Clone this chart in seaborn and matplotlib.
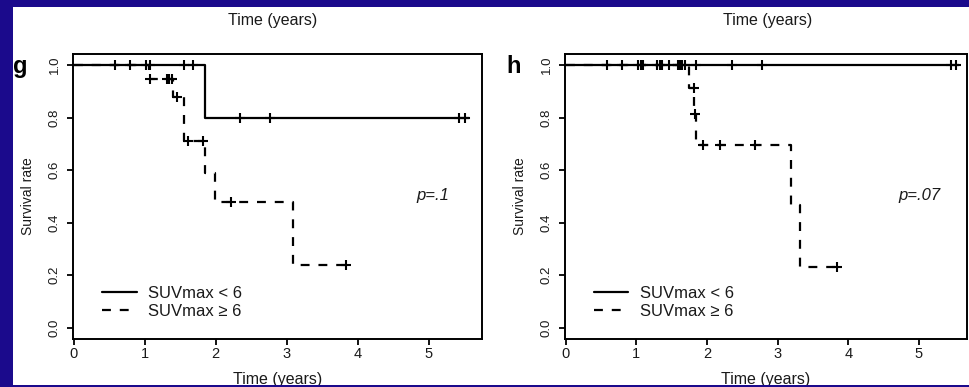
import numpy as np
import matplotlib
matplotlib.use("Agg")
import matplotlib.pyplot as plt
import seaborn as sns
from matplotlib.patches import Rectangle

sns.set_theme(style="ticks")
plt.rcParams["font.family"] = ["Liberation Sans", "DejaVu Sans"]

# ---- Kaplan-Meier step data (event times and survival after each event) ----
# panel g
g_low_times = [0.0, 1.85, 5.56]
g_low_surv = [1.0, 0.80, 0.80]
g_low_censor = [0.58, 0.79, 1.02, 1.07, 1.56, 1.68, 2.34, 2.76, 5.42, 5.51]

g_high_times = [0.0, 1.06, 1.40, 1.55, 1.85, 1.99, 3.09, 3.84]
g_high_surv = [1.0, 0.947, 0.88, 0.712, 0.59, 0.48, 0.24, 0.24]
g_high_censor = [1.07, 1.31, 1.34, 1.38, 1.45, 1.61, 1.82, 2.22, 3.84]

# panel h
h_low_times = [0.0, 5.56]
h_low_surv = [1.0, 1.0]
h_low_censor = [0.58, 0.80, 1.02, 1.06, 1.10, 1.29, 1.33, 1.36, 1.46,
                1.59, 1.62, 1.65, 1.69, 1.84, 2.35, 2.78, 5.46, 5.53]

h_high_times = [0.0, 1.75, 1.82, 1.85, 3.19, 3.32, 3.84]
h_high_surv = [1.0, 0.912, 0.813, 0.696, 0.467, 0.233, 0.233]
h_high_censor = [1.81, 1.83, 1.95, 2.19, 2.68, 3.84]

group_labels = ["SUVmax < 6", "SUVmax \u2265 6"]
x_ticks = [0, 1, 2, 3, 4, 5]
y_ticks = [0.0, 0.2, 0.4, 0.6, 0.8, 1.0]
y_tick_labels = ["0.0", "0.2", "0.4", "0.6", "0.8", "1.0"]
p_values = ["p=.1", "p=.07"]
panel_letters = ["g", "h"]
axis_label_x = "Time (years)"
axis_label_y = "Survival rate"

BLUE = "#1b0a8c"
INK = "#1a1a1a"
W, H = 970, 387
line_styles = ["-", (0, (4, 4))]


def step_level(times, surv, t):
    idx = np.searchsorted(times, t, side="right") - 1
    return np.asarray(surv)[idx]


fig = plt.figure(figsize=(W / 100, H / 100), dpi=100, facecolor="white")


def px_axes(left, top, right, bottom):
    return fig.add_axes([left / W, 1 - bottom / H, (right - left) / W, (bottom - top) / H])


def draw_panel(ax, curves, xmax, p_text, p_x, letter_x, letter):
    for (times, surv, censor), ls in zip(curves, line_styles):
        sns.lineplot(x=times, y=surv, ax=ax, color="black", lw=1.6,
                     drawstyle="steps-post", estimator=None, sort=False,
                     linestyle=ls, legend=False)
        sns.scatterplot(x=censor, y=step_level(times, surv, censor), ax=ax,
                        marker="+", s=58, color="black", linewidth=1.5,
                        legend=False, zorder=3)
    ax.set_xlim(-0.01, xmax)
    ax.set_ylim(-0.043, 1.042)
    ax.set_xticks(x_ticks)
    ax.set_xticklabels([str(t) for t in x_ticks])
    ax.set_yticks(y_ticks)
    ax.set_yticklabels(y_tick_labels, rotation=90, va="center")
    ax.tick_params(axis="both", direction="out", length=4.5, width=1.3,
                   color="black", labelcolor=INK)
    ax.tick_params(axis="x", labelsize=10.5, pad=1.5)
    ax.tick_params(axis="y", labelsize=9.5, pad=4.5)
    for sp in ax.spines.values():
        sp.set_visible(True)
        sp.set_color("black")
        sp.set_linewidth(1.4)
    ax.set_facecolor("white")
    ax.set_xlabel(axis_label_x, fontsize=11.5, color=INK)
    ax.xaxis.set_label_coords(0.5, -0.115)
    ax.set_ylabel(axis_label_y, fontsize=10, color=INK)
    ax.yaxis.set_label_coords(-0.094, 0.5)
    ax.text(p_x, 0.505, p_text, transform=ax.transAxes, fontsize=12,
            style="italic", ha="center", va="center", color=INK)
    ax.legend(handles=ax.lines[:2], labels=group_labels, loc="upper left",
              bbox_to_anchor=(0.072, 0.186), frameon=False, fontsize=12,
              handlelength=2.05, handletextpad=0.7, labelspacing=0.2,
              borderpad=0, borderaxespad=0, labelcolor=INK)
    fig.text(letter_x / W, 1 - 73 / H, letter, fontsize=17, fontweight="bold",
             color="black", va="baseline", ha="left")


ax_g = px_axes(73, 54, 482, 339)
draw_panel(ax_g,
           [(g_low_times, g_low_surv, g_low_censor),
            (g_high_times, g_high_surv, g_high_censor)],
           5.75, p_values[0], 0.88, 13, panel_letters[0])

ax_h = px_axes(565, 54, 967, 339)
draw_panel(ax_h,
           [(h_low_times, h_low_surv, h_low_censor),
            (h_high_times, h_high_surv, h_high_censor)],
           5.68, p_values[1], 0.883, 506, panel_letters[1])

# axis titles of the panels above, partly visible at the top
fig.text(273 / W, 1 - 21 / H, axis_label_x, fontsize=11.5, color=INK, ha="center", va="center")
fig.text(768 / W, 1 - 21 / H, axis_label_x, fontsize=11.5, color=INK, ha="center", va="center")

# blue slide frame
for rect in [(0, 0, 13 / W, 1), (0, 1 - 7 / H, 1, 7 / H), (0, 0, 1, 2.5 / H)]:
    fig.add_artist(Rectangle(rect[:2], rect[2], rect[3], transform=fig.transFigure,
                             facecolor=BLUE, edgecolor="none", zorder=10))

fig.savefig("out.png", dpi=100, facecolor="white")
